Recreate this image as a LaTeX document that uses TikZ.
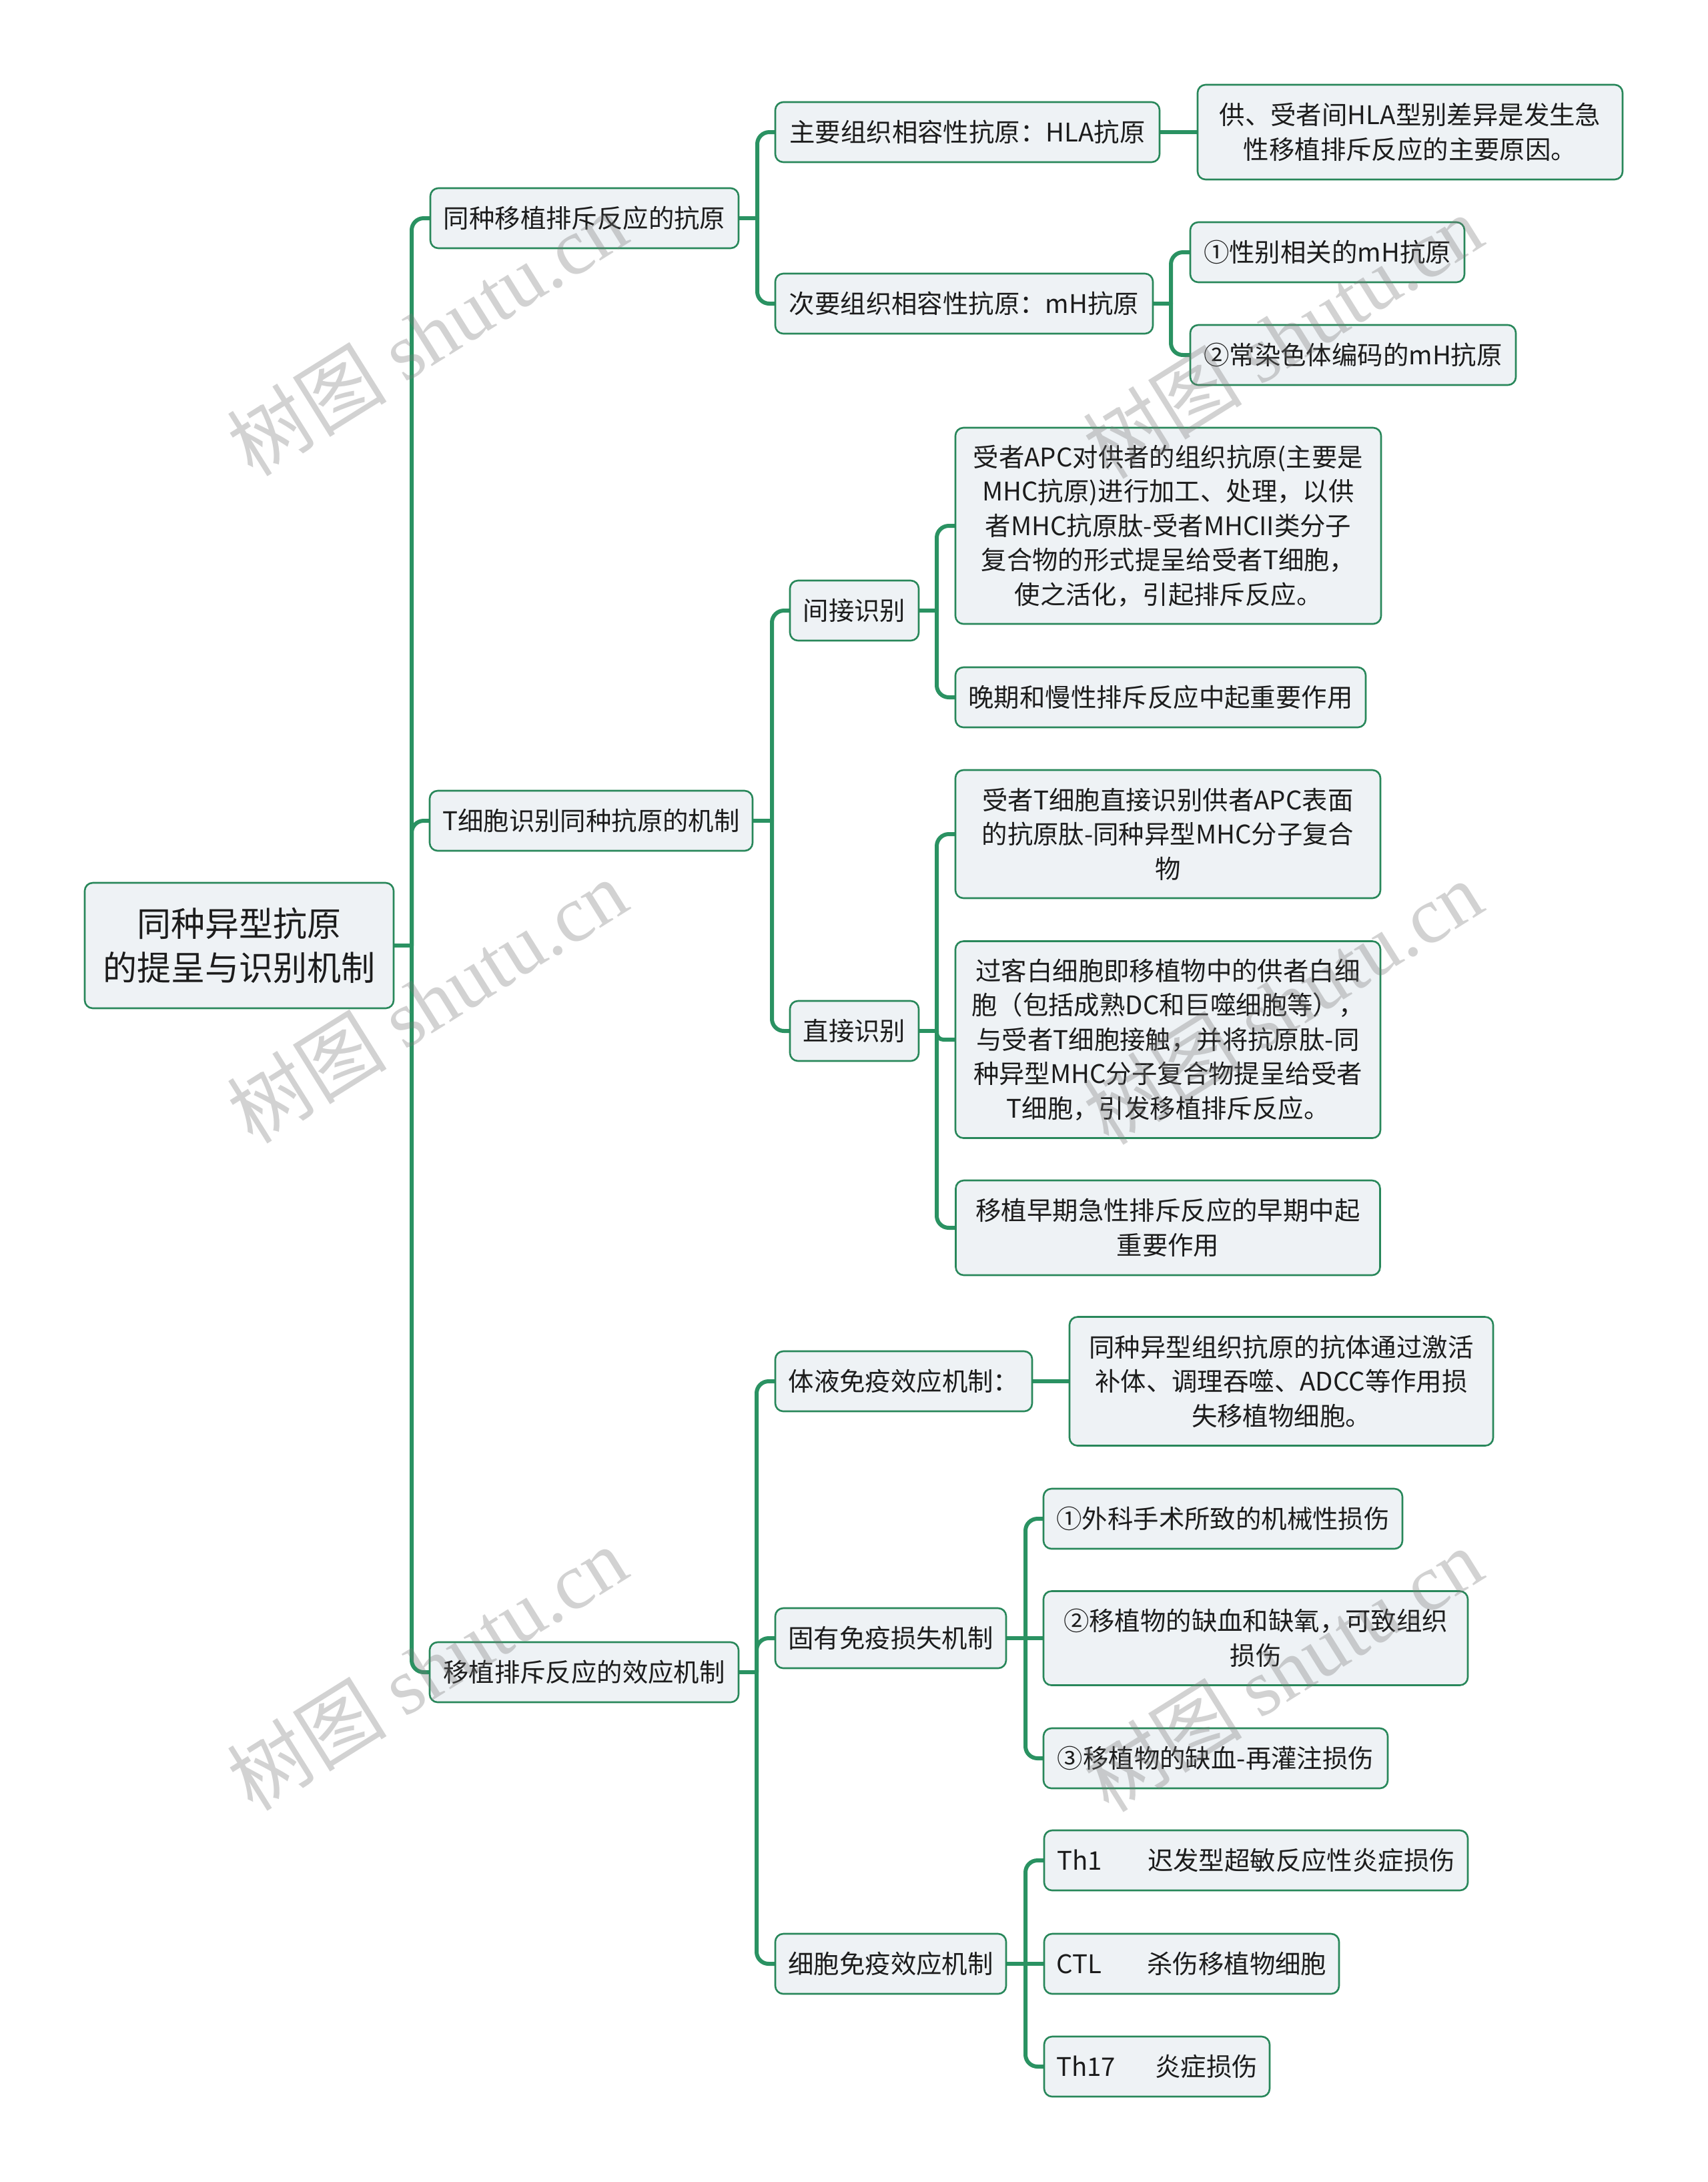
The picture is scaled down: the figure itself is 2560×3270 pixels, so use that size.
\documentclass[tikz,border=0pt]{standalone}
\usepackage{fontspec}
\setmainfont{Noto Sans CJK SC}
\newfontfamily\wmlatin{Liberation Serif}
\usetikzlibrary{backgrounds}
\definecolor{lineg}{RGB}{42,146,98}
\definecolor{bordg}{RGB}{40,135,90}
\definecolor{boxf}{RGB}{238,242,245}
\definecolor{txtc}{RGB}{28,28,28}
\definecolor{wmc}{RGB}{120,120,120}
\tikzset{
  box/.style={draw=bordg, line width=0.65pt, fill=boxf, rounded corners=3pt, inner sep=0pt, outer sep=0pt, align=center, text=txtc, font=\fontsize{9.6pt}{12.9pt}\selectfont},
  rootbox/.style={box, font=\fontsize{12.75pt}{16.7pt}\selectfont},
  sz/.style 2 args={minimum width=#1*0.25pt, minimum height=#2*0.25pt},
  conn/.style={draw=lineg, line width=1.5pt, rounded corners=4.5pt, line cap=round, line join=round},
  wmark/.style={text=wmc, text opacity=0.33, rotate=32, font=\fontsize{30pt}{30pt}\selectfont, inner sep=0pt},
}
\begin{document}
\begin{tikzpicture}[x=0.25pt, y=-0.25pt]
\useasboundingbox (0,0) rectangle (2560,3270);

% root
\node[rootbox, sz={463}{188}] (root) at (358.5,1417) {同种异型抗原\\的提呈与识别机制};

% level 1
\node[box, sz={462}{90}] (a) at (876,327) {同种移植排斥反应的抗原};
\node[box, sz={484}{90}] (b) at (886,1230) {T细胞识别同种抗原的机制};
\node[box, sz={463}{90}] (c) at (875.5,2506) {移植排斥反应的效应机制};

% branch a
\node[box, sz={576}{90}] (a1) at (1450,198) {主要组织相容性抗原：HLA抗原};
\node[box, sz={637}{142}] (a1t) at (2113.5,198) {供、受者间HLA型别差异是发生急\\性移植排斥反应的主要原因。};
\node[box, sz={566}{90}] (a2) at (1445,455) {次要组织相容性抗原：mH抗原};
\node[box, sz={411}{90}] (a21) at (1989.5,378) {①性别相关的mH抗原};
\node[box, sz={488}{90}] (a22) at (2028,532) {②常染色体编码的mH抗原};

% branch b
\node[box, sz={193}{90}] (b1) at (1280.5,915) {间接识别};
\node[box, sz={193}{90}] (b2) at (1280.5,1545) {直接识别};
\node[box, sz={638}{294}] (b11) at (1751,788) {受者APC对供者的组织抗原(主要是\\MHC抗原)进行加工、处理，以供\\者MHC抗原肽-受者MHCII类分子\\复合物的形式提呈给受者T细胞，\\使之活化，引起排斥反应。};
\node[box, sz={615}{90}] (b12) at (1739.5,1045) {晚期和慢性排斥反应中起重要作用};
\node[box, sz={637}{192}] (b21) at (1750.5,1250) {受者T细胞直接识别供者APC表面\\的抗原肽-同种异型MHC分子复合\\物};
\node[box, sz={637}{295}] (b22) at (1750.5,1558) {过客白细胞即移植物中的供者白细\\胞（包括成熟DC和巨噬细胞等），\\与受者T细胞接触，并将抗原肽-同\\种异型MHC分子复合物提呈给受者\\T细胞，引发移植排斥反应。};
\node[box, sz={636}{142}] (b23) at (1750.5,1840) {移植早期急性排斥反应的早期中起\\重要作用};

% branch c
\node[box, sz={385}{90}] (c1) at (1354.5,2070) {体液免疫效应机制：};
\node[box, sz={635}{193}] (c1t) at (1920.5,2070) {同种异型组织抗原的抗体通过激活\\补体、调理吞噬、ADCC等作用损\\失移植物细胞。};
\node[box, sz={346}{90}] (c2) at (1335,2455) {固有免疫损失机制};
\node[box, sz={538}{90}] (c21) at (1833,2276) {①外科手术所致的机械性损伤};
\node[box, sz={636}{141}] (c22) at (1882,2455) {②移植物的缺血和缺氧，可致组织\\损伤};
\node[box, sz={516}{90}] (c23) at (1822,2635) {③移植物的缺血-再灌注损伤};
\node[box, sz={346}{90}] (c3) at (1335,2943) {细胞免疫效应机制};
\node[box, sz={635}{90}] (c31) at (1882.5,2788) {\makebox[34pt][l]{Th1}迟发型超敏反应性炎症损伤};
\node[box, sz={442}{90}] (c32) at (1786,2943) {\makebox[34pt][l]{CTL}杀伤移植物细胞};
\node[box, sz={338}{90}] (c33) at (1734,3097) {\makebox[37pt][l]{Th17}炎症损伤};

% junction coordinates
\coordinate (jr) at (617,0);
\coordinate (ja) at (1135,0);
\coordinate (ja2) at (1755,0);
\coordinate (jb) at (1157,0);
\coordinate (jb1) at (1404,0);
\coordinate (jb2) at (1404,0);
\coordinate (jc) at (1134,0);
\coordinate (jc2) at (1537,0);
\coordinate (jc3) at (1537,0);

\begin{scope}[on background layer]
\fill[white] (0,0) rectangle (2560,3270);
% root
\draw[conn] (root.east) -- (root.east -| jr);
\foreach \n in {a,b,c} \draw[conn] (root.east -| jr) |- (\n.west);
% a
\draw[conn] (a.east) -- (a.east -| ja);
\foreach \n in {a1,a2} \draw[conn] (a.east -| ja) |- (\n.west);
\draw[conn] (a1.east) -- (a1t.west);
\draw[conn] (a2.east) -- (a2.east -| ja2);
\foreach \n in {a21,a22} \draw[conn] (a2.east -| ja2) |- (\n.west);
% b
\draw[conn] (b.east) -- (b.east -| jb);
\foreach \n in {b1,b2} \draw[conn] (b.east -| jb) |- (\n.west);
\draw[conn] (b1.east) -- (b1.east -| jb1);
\foreach \n in {b11,b12} \draw[conn] (b1.east -| jb1) |- (\n.west);
\draw[conn] (b2.east) -- (b2.east -| jb2);
\foreach \n in {b21,b23} \draw[conn] (b2.east -| jb2) |- (\n.west);
\draw[conn, rounded corners=2.5pt] (b2.east -| jb2) |- (b22.west);
% c
\draw[conn] (c.east) -- (c.east -| jc);
\foreach \n in {c1,c2,c3} \draw[conn] (c.east -| jc) |- (\n.west);
\draw[conn] (c1.east) -- (c1t.west);
\draw[conn] (c2.east) -- (c22.west);
\draw[conn] (c2.east -| jc2) |- (c21.west);
\draw[conn] (c2.east -| jc2) |- (c23.west);
\draw[conn] (c3.east) -- (c32.west);
\draw[conn] (c3.east -| jc3) |- (c31.west);
\draw[conn] (c3.east -| jc3) |- (c33.west);
\end{scope}

% watermarks
\node[wmark] (w1) at (640,500) {树图 {\wmlatin shutu.cn}};
\node[wmark] (w2) at (640,1500) {树图 {\wmlatin shutu.cn}};
\node[wmark] (w3) at (640,2500) {树图 {\wmlatin shutu.cn}};
\node[wmark] (w4) at (1922,504) {树图 {\wmlatin shutu.cn}};
\node[wmark] (w5) at (1922,1502) {树图 {\wmlatin shutu.cn}};
\node[wmark] (w6) at (1922,2502) {树图 {\wmlatin shutu.cn}};
\end{tikzpicture}
\end{document}
